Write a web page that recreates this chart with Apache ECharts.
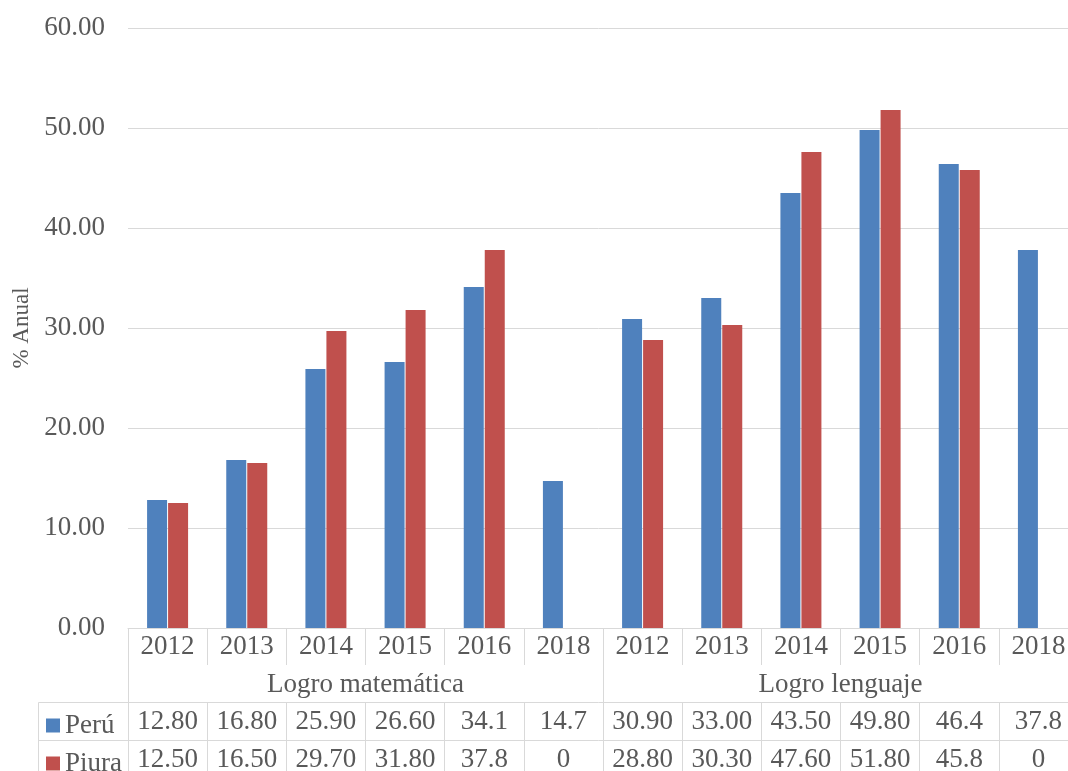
<!DOCTYPE html>
<html>
<head>
<meta charset="utf-8">
<script src="https://cdn.jsdelivr.net/npm/echarts@6/dist/echarts.min.js"></script>
<style>
html,body{margin:0;padding:0;background:#fff;}
#chart{width:1068px;height:771px;}
</style>
</head>
<body>
<div id="chart"></div>
<script>
// ---- data ----
const years = ['2012','2013','2014','2015','2016','2018','2012','2013','2014','2015','2016','2018'];
const groups = ['Logro matemática','Logro lenguaje'];
const seriesNames = ['Perú','Piura'];
const peruText  = ['12.80','16.80','25.90','26.60','34.1','14.7','30.90','33.00','43.50','49.80','46.4','37.8'];
const piuraText = ['12.50','16.50','29.70','31.80','37.8','0','28.80','30.30','47.60','51.80','45.8','0'];
const yTicks = [0, 10, 20, 30, 40, 50, 60];

const FONT = '"Liberation Serif","Times New Roman",serif';
const TXT = '#595959';
const LINE = '#d9d9d9';
const FS = 27;

const chart = echarts.init(document.getElementById('chart'), null, {renderer:'canvas'});

function tableAxis(data, offset, len, showLine, margin) {
  return {
    type: 'category',
    gridIndex: 0,
    position: 'bottom',
    offset: offset,
    data: data,
    axisLine: {show: showLine, lineStyle: {color: LINE, width: 1}},
    axisTick: {show: true, interval: 0, length: len, lineStyle: {color: LINE, width: 1}},
    axisLabel: {show: true, interval: 0, margin: margin, verticalAlign: 'middle',
                color: TXT, fontFamily: FONT, fontSize: FS},
    splitLine: {show: false}
  };
}

function legendRow(name, top) {
  return {
    left: 41, top: top, orient: 'horizontal',
    icon: 'rect', itemWidth: 14, itemHeight: 14,
    selectedMode: false,
    textStyle: {color: TXT, fontFamily: FONT, fontSize: FS},
    data: [name]
  };
}

const option = {
  backgroundColor: '#fff',
  animation: false,
  grid: {left: 128, top: 28, right: -10, bottom: 143, containLabel: false, outerBoundsMode: 'none'},
  legend: [legendRow(seriesNames[0], 707), legendRow(seriesNames[1], 745)],
  xAxis: [
    tableAxis(years, 0, 37, true, 19),
    tableAxis(groups, 37, 37, false, 20),
    tableAxis(peruText, 74, 38, true, 20),
    tableAxis(piuraText, 112, 38, true, 20)
  ],
  yAxis: {
    type: 'value', min: yTicks[0], max: yTicks[yTicks.length-1], interval: yTicks[1]-yTicks[0],
    name: '% Anual', nameLocation: 'middle', nameRotate: 90, nameGap: 94,
    nameTextStyle: {color: TXT, fontFamily: FONT, fontSize: 23},
    axisLine: {show: false}, axisTick: {show: false},
    axisLabel: {color: TXT, fontFamily: FONT, fontSize: FS, margin: 23,
                formatter: v => v.toFixed(2)},
    splitLine: {show: true, lineStyle: {color: LINE, width: 1}}
  },
  graphic: [
    {type: 'rect', silent: true, z: 10,
     shape: {x: 38.5, y: 702.5, width: 90, height: 120},
     style: {fill: 'none', stroke: LINE, lineWidth: 1}},
    {type: 'line', silent: true, z: 10,
     shape: {x1: 38.5, y1: 740.5, x2: 128.5, y2: 740.5},
     style: {stroke: LINE, lineWidth: 1}}
  ],
  series: [
    {name: seriesNames[0], type: 'bar', xAxisIndex: 0, barWidth: 20, barGap: '5%',
     itemStyle: {color: '#4F81BD'}, data: peruText.map(Number)},
    {name: seriesNames[1], type: 'bar', xAxisIndex: 0, barWidth: 20, barGap: '5%',
     itemStyle: {color: '#C0504D'}, data: piuraText.map(Number)}
  ]
};
chart.setOption(option);
</script>
</body>
</html>
